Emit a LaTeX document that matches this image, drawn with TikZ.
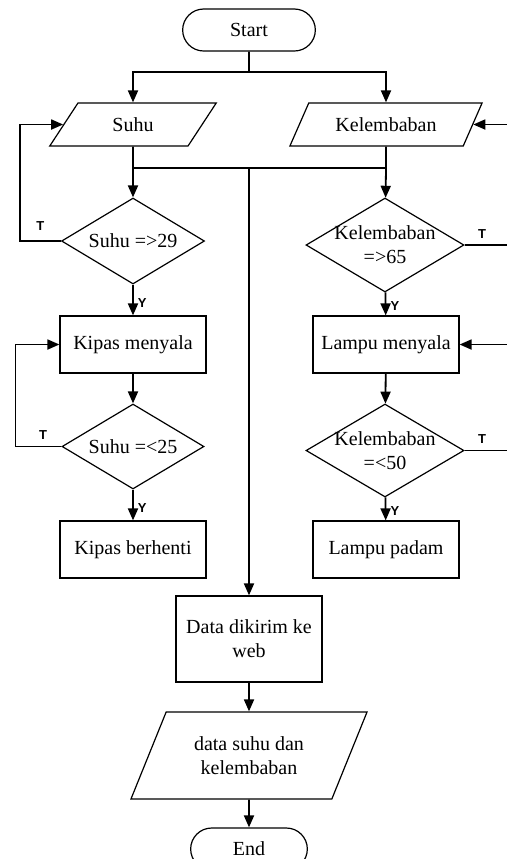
\documentclass[tikz,border=0pt]{standalone}
\usepackage{fontspec}
\setmainfont{Liberation Serif}
\newfontfamily\tyfont{Liberation Sans}
\usepackage{tikz}
\usetikzlibrary{shapes,arrows.meta,positioning}

\begin{document}
\begin{tikzpicture}[
        x=0.5pt, y=-0.5pt,
        terminal/.style={rounded rectangle, draw, line width=0.6pt, minimum width=73pt, minimum height=21pt},
        io/.style={trapezium, trapezium left angle=63, trapezium right angle=117, trapezium stretches=true, draw, line width=0.6pt, minimum height=21.5pt, align=center},
        process/.style={rectangle, draw, line width=0.6pt, minimum width=73pt, minimum height=28.5pt, align=center},
        decision/.style={diamond, draw, line width=0.6pt, inner sep=0pt},
        arrow/.style={line width=0.9pt,-{Triangle[length=6pt,width=5pt]}},
        line/.style={line width=0.9pt},
        tylabel/.style={font=\tyfont\bfseries\fontsize{6.5}{7}\selectfont, inner sep=1pt}
    ]
        \path[use as bounding box, clip] (0,0) rectangle (507,859);

        % Start and inputs
        \node[terminal] (start) at (249,30) {Start};
        \node[io, minimum width=83.5pt] (suhu) at (133,124.5) {Suhu};
        \node[io, minimum width=96.5pt] (lembab) at (386,124.5) {Kelembaban};
        \coordinate (split) at (249,72);
        \coordinate (m1) at (133,168);
        \coordinate (m2) at (386,168);
        \coordinate (mid) at (249,168);

        % Suhu branch
        \node[decision, minimum width=71.5pt, minimum height=43pt, label={center:Suhu =>29}] (d1) at (133,241) {};
        \node[process] (kipason) at (133,344.5) {Kipas menyala};
        \node[decision, minimum width=71pt, minimum height=42.5pt, label={center:Suhu =<25}] (d2) at (133,446.5) {};
        \node[process] (kipasoff) at (133,549.5) {Kipas berhenti};

        % Kelembaban branch
        \node[decision, minimum width=79pt, minimum height=47pt, label={[align=center]center:Kelembaban\\=>65}] (d3) at (385,245) {};
        \node[process] (lampuon) at (386,344.5) {Lampu menyala};
        \node[decision, minimum width=79pt, minimum height=46.5pt, label={[align=center]center:Kelembaban\\=<50}] (d4) at (385,450.5) {};
        \node[process] (lampuoff) at (386,549.5) {Lampu padam};

        % Output
        \node[process, minimum height=43pt] (kirim) at (249,639) {Data dikirim ke\\web};
        \node[io, minimum width=119pt, minimum height=43.5pt] (data) at (249,755.5) {data suhu dan\\kelembaban};
        \node[terminal, minimum width=65pt] (end) at (249,849) {End};

        % Connections
        \draw[line] (start) -- (split);
        \draw[arrow] (split) -| (suhu);
        \draw[arrow] (split) -| (lembab);
        \draw[line] (suhu) -- (m1) -- (m2);
        \draw[line] (lembab) -- (m2);
        \draw[arrow] (m1) -- (d1);
        \draw[arrow] (m2) -- (d3);
        \draw[arrow] (mid) -- (kirim);

        \draw[arrow] (d1.west) -- node[tylabel, above=4pt] {T} ++(-41,0) |- (suhu.west);
        \draw[arrow] (d1) -- node[tylabel, right=1pt, pos=0.6] {Y} (kipason);
        \draw[arrow] (kipason) -- (d2);
        \draw[arrow] (d2.west) -- node[tylabel, above=2pt, pos=0.4] {T} ++(-46,0) |- (kipason.west);
        \draw[arrow] (d2) -- node[tylabel, right=1pt, pos=0.6] {Y} (kipasoff);

        \draw[arrow] (d3.east) -- node[tylabel, above=2pt, pos=0.35] {T} ++(50,0) |- (lembab.east);
        \draw[arrow] (d3) -- node[tylabel, right=1pt, pos=0.6] {Y} (lampuon);
        \draw[arrow] (lampuon) -- (d4);
        \draw[arrow] (d4.east) -- node[tylabel, above=2pt, pos=0.35] {T} ++(50,0) |- (lampuon.east);
        \draw[arrow] (d4) -- node[tylabel, right=1pt, pos=0.6] {Y} (lampuoff);

        \draw[arrow] (kirim) -- (data);
        \draw[arrow] (data) -- (end);
    \end{tikzpicture}
\end{document}
